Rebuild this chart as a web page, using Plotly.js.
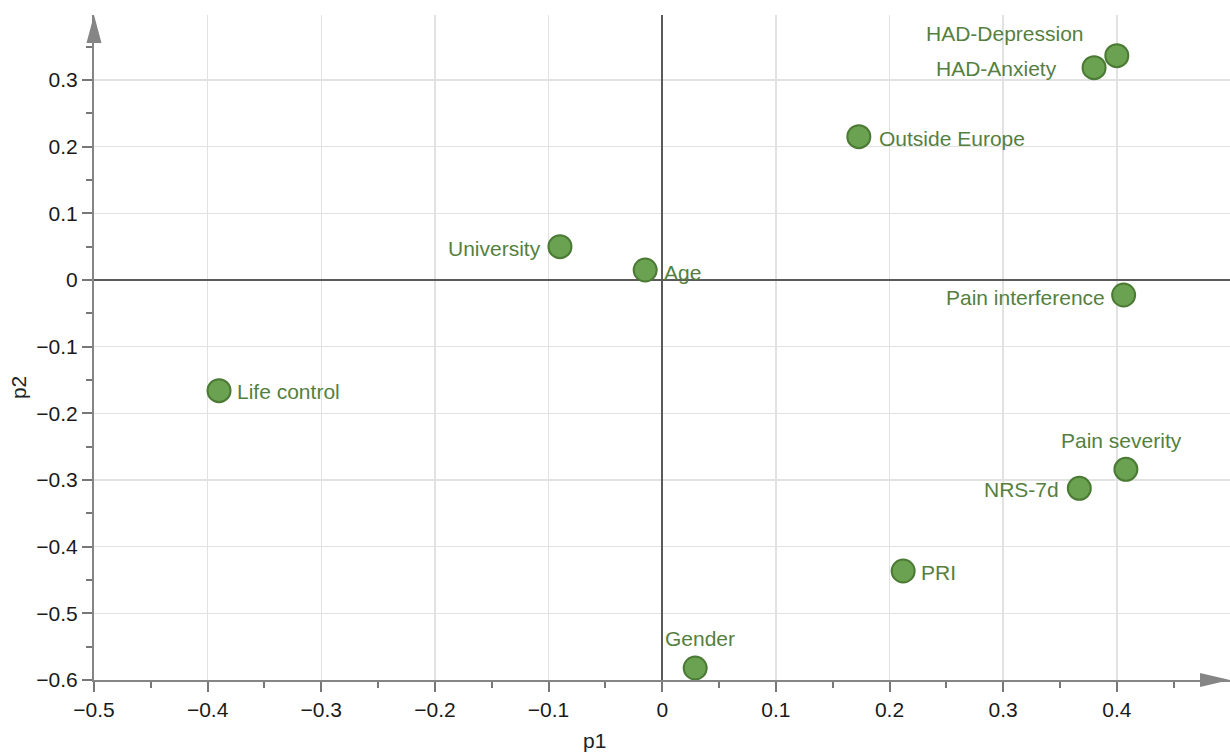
<!DOCTYPE html>
<html>
<head>
<meta charset="utf-8">
<script src="https://cdn.plot.ly/plotly-3.0.1.min.js"></script>
<style>html,body{margin:0;padding:0;background:#fff;}#chart{width:1230px;height:753px;}</style>
</head>
<body>
<div id="chart"></div>
<script>
// Data
const labels = ["HAD-Depression","HAD-Anxiety","Outside Europe","University","Age","Pain interference","Life control","Pain severity","NRS-7d","PRI","Gender"];
const p1 = [0.400, 0.380, 0.173, -0.090, -0.015, 0.406, -0.390, 0.408, 0.367, 0.212, 0.029];
const p2 = [0.3365, 0.3185, 0.215, 0.050, 0.015, -0.0225, -0.166, -0.284, -0.3125, -0.4365, -0.582];

// Label placement (style only)
const labelAnchor = ["right","right","left","right","left","right","left","center","right","left","center"];
const labelDx = [-31, -35, 18, -17, 17, -17, 16, -4, -18, 16, 5];
const labelDy = [22, -1, -2, -2, -2, -2, -1, 29, -1, -1, 30];

const textColor = "#557f3f";
const font = "'Liberation Sans', Arial, sans-serif";

const trace = {
  type: "scatter",
  mode: "markers",
  x: p1,
  y: p2,
  marker: {size: 23, color: "#6aa252", line: {color: "#4b7a34", width: 2}},
  hoverinfo: "skip",
  cliponaxis: false
};

const annotations = labels.map((t, i) => ({
  x: p1[i], y: p2[i], xref: "x", yref: "y",
  text: t, showarrow: false,
  xanchor: labelAnchor[i], yanchor: "middle",
  xshift: labelDx[i], yshift: labelDy[i],
  font: {family: font, size: 21, color: textColor}
}));

annotations.push({
  xref: "paper", yref: "paper", x: 0.441, y: 0, yshift: -60,
  xanchor: "center", yanchor: "middle", showarrow: false,
  text: "p1", font: {family: font, size: 21, color: "#222"}
});
annotations.push({
  xref: "paper", yref: "paper", x: 0, y: 0.439, xshift: -76,
  xanchor: "center", yanchor: "middle", showarrow: false, textangle: -90,
  text: "p2", font: {family: font, size: 21, color: "#222"}
});

const axisCommon = {
  showline: true, linecolor: "#858585", linewidth: 2,
  showgrid: true, gridcolor: "#e2e2e2", gridwidth: 1.5,
  zeroline: true, zerolinecolor: "#5a5a5a", zerolinewidth: 1.5,
  ticks: "outside", ticklen: 10, tickwidth: 2, tickcolor: "#777",
  dtick: 0.1,
  tickfont: {family: font, size: 21, color: "#1a1a1a"},
  minor: {dtick: 0.05, ticks: "outside", ticklen: 6, tickwidth: 2, tickcolor: "#777", showgrid: false},
  fixedrange: true
};

const layout = {
  width: 1230, height: 753,
  margin: {l: 94, r: 0, t: 15, b: 73},
  paper_bgcolor: "#fff", plot_bgcolor: "#fff",
  showlegend: false,
  hovermode: false,
  xaxis: Object.assign({}, axisCommon, {range: [-0.5, 0.4996], tick0: 0}),
  yaxis: Object.assign({}, axisCommon, {range: [-0.6, 0.3975], tick0: 0}),
  annotations: annotations,
  shapes: [
    {type: "path", xref: "paper", yref: "paper", xsizemode: "pixel", ysizemode: "pixel",
     xanchor: 0, yanchor: 1, path: "M0,0 L-7.5,-28 L7.5,-28 Z",
     fillcolor: "#858585", line: {width: 0}, layer: "above"},
    {type: "path", xref: "paper", yref: "paper", xsizemode: "pixel", ysizemode: "pixel",
     xanchor: 1, yanchor: 0, path: "M0,0 L-30,7 L-30,-7 Z",
     fillcolor: "#858585", line: {width: 0}, layer: "above"}
  ]
};

Plotly.newPlot("chart", [trace], layout, {displayModeBar: false, staticPlot: true});
</script>
</body>
</html>
